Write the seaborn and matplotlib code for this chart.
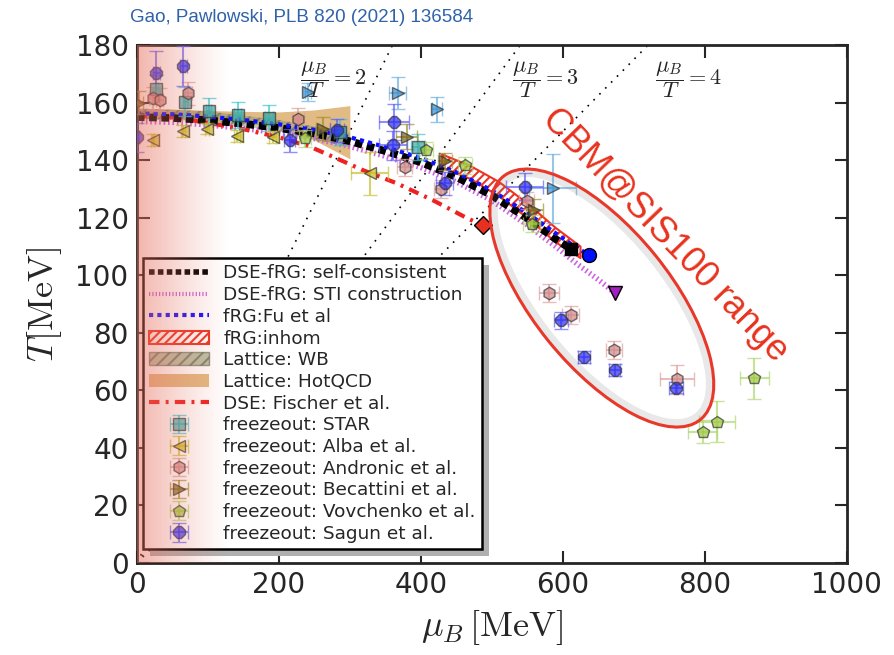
import numpy as np
import pandas as pd
import matplotlib
matplotlib.use("Agg")
import matplotlib.pyplot as plt
import seaborn as sns
from matplotlib.patches import Ellipse, Patch, Rectangle
from matplotlib.lines import Line2D
from matplotlib.transforms import ScaledTranslation, IdentityTransform

# ---------------- data ----------------
dsefrg_mu = [0, 50, 100, 150, 200, 250, 300, 350, 400, 450, 500, 550, 590, 611]
dsefrg_T = [155.0, 154.7, 153.9, 152.7, 151.2, 149.3, 146.6, 143.2, 139.3, 134.2, 127.8, 119.8, 112.6, 109.2]

fu_mu = [0, 50, 100, 150, 200, 250, 300, 350, 400, 450, 500, 550, 590, 611, 637]
fu_T = [156.3, 156.0, 155.2, 154.0, 152.5, 150.6, 148.0, 144.6, 140.8, 135.8, 129.5, 121.6, 114.6, 111.0, 107.0]

sti_mu = [0, 50, 100, 150, 200, 250, 300, 350, 400, 450, 500, 550, 590, 620, 650, 673]
sti_T = [153.5, 153.2, 152.3, 151.1, 149.5, 147.5, 144.8, 141.4, 137.5, 132.5, 126.0, 117.5, 110.0, 104.0, 98.5, 94.0]

fischer_mu = [0, 50, 100, 150, 200, 244, 290, 318, 366, 417, 465, 487]
fischer_T = [155.5, 155.0, 153.0, 150.8, 148.0, 144.7, 139.7, 136.6, 132.0, 126.1, 119.9, 117.4]

inhom_mu = [430, 470, 510, 550, 590, 625]
inhom_lo = [137.5, 133.5, 127.5, 120.0, 111.5, 106.0]
inhom_hi = [142.0, 138.0, 132.5, 125.0, 116.5, 110.0]

wb_mu = [0, 100, 200, 300]
wb_lo = [154.5, 153.5, 150.0, 144.5]
wb_hi = [158.0, 157.0, 154.0, 149.5]

hot_mu = [0, 50, 100, 150, 200, 250, 300]
hot_lo = [154.5, 154.3, 153.8, 153.0, 151.5, 147.0, 140.5]
hot_hi = [158.0, 157.8, 157.3, 157.0, 156.8, 157.5, 159.0]

ratios = [2, 3, 4]
ratio_T = [0, 180]

star_mu = [27, 68, 101, 142, 186, 286, 396]
star_T = [164.7, 160.3, 157.0, 155.7, 154.7, 149.9, 144.5]
star_Te = [5, 5, 4.5, 4.5, 4.5, 4.5, 4.5]
star_me = [2, 3, 4, 5, 6, 8, 10]

alba_mu = [22.5, 65, 99, 141, 191.5, 328]
alba_T = [147.0, 150.2, 151.0, 148.5, 148.1, 135.5]
alba_Te = [2, 2, 2, 2, 2, 7.5]
alba_me = [2, 3, 3, 4, 5, 26]

andr_mu = [22, 32, 72, 227, 377, 429, 549, 580, 611, 672, 761.5]
andr_T = [161.5, 161.0, 163.3, 154.3, 137.6, 130.0, 126.0, 93.9, 86.2, 74.0, 63.9]
andr_Te = [4, 4, 4, 4, 3, 3, 3, 3.2, 3, 3, 5]
andr_me = [5, 5, 6, 8, 10, 10, 10, 14, 12, 11, 24]

beca_mu = [3, 262, 380, 434, 560]
beca_T = [160.0, 151.0, 148.2, 139.6, 122.7]
beca_Te = [4, 4, 4.3, 3, 4]
beca_me = [5, 10, 15, 10, 12]

vov_mu = [237, 407, 462, 556, 797, 817, 870]
vov_T = [147.6, 143.5, 138.3, 118.0, 45.6, 49.1, 64.2]
vov_Te = [3, 3, 3, 3, 4, 7.2, 7.2]
vov_me = [8, 10, 10, 12, 20, 25, 21]

sagun_mu = [0, 27, 65, 215, 282, 362, 361, 434, 546.5, 598, 630, 673, 760]
sagun_T = [148.0, 170.5, 172.8, 147.0, 150.4, 153.3, 145.2, 132.0, 130.8, 84.4, 71.6, 67.0, 61.0]
sagun_Te = [5, 7.5, 7, 4, 4, 6.4, 5, 4, 4.6, 3, 2, 2, 2]
sagun_me = [3, 5, 5, 8, 10, 21, 20, 12, 26, 10, 8, 8, 10]

lb_mu = [241, 367.6, 422.5, 586]
lb_T = [163.7, 163.4, 157.7, 130.2]
lb_Te = [3, 5.5, 4.3, 12]
lb_me = [4, 12, 7, 33]

end_black = (611, 109.2)
end_blue = (637, 107.0)
end_sti = (673, 94.0)
end_fischer = (487, 117.4)

legend_labels = ["DSE-fRG: self-consistent", "DSE-fRG: STI construction", "fRG:Fu et al",
                 "fRG:inhom", "Lattice: WB", "Lattice: HotQCD", "DSE: Fischer et al.",
                 "freezeout: STAR", "freezeout: Alba et al.", "freezeout: Andronic et al.",
                 "freezeout: Becattini et al.", "freezeout: Vovchenko et al.", "freezeout: Sagun et al."]

# ---------------- style ----------------
sns.set_style("ticks")
plt.rcParams["font.family"] = ["DejaVu Sans"]
plt.rcParams["mathtext.fontset"] = "cm"
plt.rcParams["hatch.linewidth"] = 1.5

fig = plt.figure(figsize=(8.95, 6.55), dpi=100)
ax = fig.add_axes([0.153, 0.1405, 0.946 - 0.153, 0.931 - 0.1405])

# ratio lines
for r in ratios:
    ax.plot([r * t for t in ratio_T], ratio_T, color="black", lw=1.2,
            linestyle=(0, (1, 4)), zorder=1)

# bands
ax.fill_between(hot_mu, hot_lo, hot_hi, color="#d9a35a", alpha=0.75, lw=0, zorder=1.5)
ax.fill_between(wb_mu, wb_lo, wb_hi, facecolor="#8a9a6a", edgecolor="#5a6050",
                hatch="///", alpha=0.5, lw=0, zorder=1.6)
ax.fill_between(inhom_mu, inhom_lo, inhom_hi, facecolor="white", edgecolor="#ee3322",
                hatch="////", lw=1.5, zorder=1.7)

# curves (seaborn)
sns.lineplot(x=sti_mu, y=sti_T, ax=ax, color="#cc66dd", lw=4, linestyle=(0, (0.3, 0.5)),
             sort=False, estimator=None, zorder=2)
sns.lineplot(x=fischer_mu, y=fischer_T, ax=ax, color="#ee2222", lw=3,
             linestyle=(0, (2.5, 1.5, 0.7, 1.5)), sort=False, estimator=None, zorder=2.1)
sns.lineplot(x=dsefrg_mu, y=dsefrg_T, ax=ax, color="black", lw=5.5, linestyle=(0, (1, 0.6)),
             sort=False, estimator=None, zorder=2.2)
sns.lineplot(x=fu_mu, y=fu_T, ax=ax, color="#1010ff", lw=3, linestyle=(0, (1, 1)),
             sort=False, estimator=None, zorder=2.4)

ax.plot(*end_black, marker="s", ms=9, color="black", zorder=3)
ax.plot(*end_blue, marker="o", ms=10, mfc="#0010ff", mec="black", zorder=3)
ax.plot(*end_sti, marker="v", ms=10, mfc="#a020c0", mec="black", zorder=3)
ax.plot(*end_fischer, marker="D", ms=9, mfc="#e83020", mec="black", zorder=3)

# freezeout points
def fz(mu, T, me, Te, marker, face, ecol, label=None, ms=9):
    return ax.errorbar(mu, T, xerr=me, yerr=Te, fmt=marker, ms=ms, mfc=face, mec="#333333",
                       mew=1, ecolor=ecol, elinewidth=1.5, capsize=5, capthick=1.5,
                       alpha=0.7, label=label, zorder=4)

fz(lb_mu, lb_T, lb_me, lb_Te, ">", "#3a8fd0", "#6ab0e0")
h_star = fz(star_mu, star_T, star_me, star_Te, "s", "#3aa8a8", "#40c8d0")
h_alba = fz(alba_mu, alba_T, alba_me, alba_Te, "<", "#d0bc20", "#c8c030")
h_andr = fz(andr_mu, andr_T, andr_me, andr_Te, "h", "#d08888", "#e0a0a0")
h_beca = fz(beca_mu, beca_T, beca_me, beca_Te, ">", "#7a6418", "#a09030")
h_vov = fz(vov_mu, vov_T, vov_me, vov_Te, "p", "#9cc838", "#b0d870")
h_sag = fz(sagun_mu, sagun_T, sagun_me, sagun_Te, "8", "#2a2af0", "#6060ff")

# annotations
for r, xpos in zip(ratios, [230, 528, 730]):
    ax.text(xpos, 168, r"$\dfrac{\mu_B}{T}=%d$" % r, fontsize=16, va="center", ha="left", zorder=5)

ell_trans = fig.dpi_scale_trans + ScaledTranslation(655, 92.1, ax.transData)
glow = Ellipse((0, 0), width=3.05, height=1.29, angle=-51, fill=False, ec="grey", lw=6,
               alpha=0.18, transform=ell_trans, zorder=5.9)
ax.add_patch(glow)
ell = Ellipse((0, 0), width=3.13, height=1.37, angle=-51, fill=False, ec="#e8382a", lw=2.2,
              transform=ell_trans, zorder=6)
ax.add_patch(ell)

ax.text(744, 114, "CBM@SIS100 range", rotation=-46, rotation_mode="anchor", color="#e8321e",
        fontsize=26, family=["Liberation Sans", "DejaVu Sans"], ha="center", va="center", zorder=6)

# gradient overlay
grad = np.zeros((1, 256, 4))
grad[..., 0] = 0.9
grad[..., 1] = 0.42
grad[..., 2] = 0.35
grad[0, :, 3] = 0.5 * (1 - np.linspace(0, 1, 256)) ** 1.2
ax.imshow(grad, extent=[0, 130, 0, 180], aspect="auto", zorder=10, interpolation="bilinear")

ax.set_xlim(0, 1000)
ax.set_ylim(0, 180)
ax.set_xticks([0, 200, 400, 600, 800, 1000])
ax.set_yticks(range(0, 181, 20))
ax.tick_params(direction="in", length=9, width=1.5, top=True, right=True, labelsize=20, pad=6)
for s in ax.spines.values():
    s.set_linewidth(2)
    s.set_visible(True)
ax.set_xlabel(r"$\mu_B\,[\mathrm{MeV}]$", fontsize=26, labelpad=6)
ax.set_ylabel(r"$T[\mathrm{MeV}]$", fontsize=26, labelpad=8)

fig.text(130 / 895, 1 - 17 / 655, "Gao, Pawlowski, PLB 820 (2021) 136584", color="#2f62a8",
         fontsize=13.5, family=["Liberation Sans", "DejaVu Sans"], va="center", ha="left")

# legend
h1 = Line2D([], [], color="black", lw=4, linestyle=(0, (1, 0.6)))
h2 = Line2D([], [], color="#cc66dd", lw=3, linestyle=(0, (0.3, 0.5)))
h3 = Line2D([], [], color="#1010ff", lw=3, linestyle=(0, (1, 1)))
h4 = Patch(facecolor="white", edgecolor="#ee3322", hatch="////", lw=1.5)
h5 = Patch(facecolor="#8a9a6a", edgecolor="#5a6050", hatch="///", alpha=0.6)
h6 = Patch(facecolor="#d9a35a", alpha=0.75, lw=0)
h7 = Line2D([], [], color="#ee2222", lw=3, linestyle=(0, (2.5, 1.5, 0.7, 1.5)))
handles = [h1, h2, h3, h4, h5, h6, h7, h_star, h_alba, h_andr, h_beca, h_vov, h_sag]
leg = ax.legend(handles, legend_labels, loc="upper left", bbox_to_anchor=(0.0085, 0.589),
                borderaxespad=0, fontsize=13.3, labelspacing=0.2, handlelength=3.2,
                handletextpad=0.8, borderpad=0.35, fancybox=False, framealpha=1,
                edgecolor="black")
leg.get_frame().set_linewidth(1.8)
leg.set_zorder(5)

fig.canvas.draw()
bb = leg.get_window_extent()
shadow = Rectangle((bb.x0 + 7, bb.y0 - 7), bb.width, bb.height, transform=IdentityTransform(),
                   facecolor="#b0b0b0", edgecolor="none", zorder=4.9)
ax.add_artist(shadow)

fig.savefig("out.png", dpi=100)
